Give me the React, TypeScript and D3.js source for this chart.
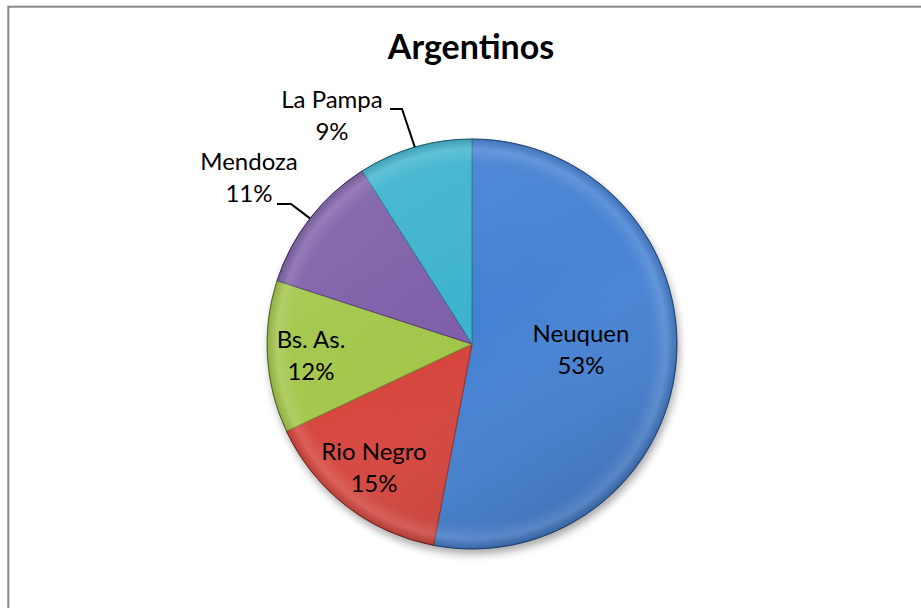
import React from "react";
import * as d3 from "d3";

const categories = ["Neuquen", "Rio Negro", "Bs. As.", "Mendoza", "La Pampa"];
const values = [53, 15, 12, 11, 9];
const colors = ["#4581D3", "#D6443C", "#A3C64A", "#7F5FA9", "#3DB3CE"];
const strokes = ["#2E5C9C", "#9A2A24", "#6E8A2A", "#553C78", "#217C92"];
const title = "Argentinos";

const W = 921;
const H = 608;
const cx = 472;
const cy = 344;
const R = 205;
const FONT = "Lato, 'Open Sans', 'DejaVu Sans', sans-serif";

const labelPos: Record<string, { x: number; y: number; leader?: number[][] }> = {
  Neuquen: { x: 581, y: 342 },
  "Rio Negro": { x: 374, y: 460 },
  "Bs. As.": { x: 311, y: 348 },
  Mendoza: { x: 249, y: 170, leader: [[277, 204], [291, 204]] },
  "La Pampa": { x: 332, y: 108, leader: [[390, 109], [402, 109]] },
};

export default function App() {
  const data = categories.map((c, i) => ({ c, v: values[i], i }));
  const pie = d3
    .pie<{ c: string; v: number; i: number }>()
    .sort(null)
    .value((d) => d.v)
    .startAngle(0)
    .endAngle(2 * Math.PI);
  const arcs = pie(data);
  const arc = d3.arc<d3.PieArcDatum<any>>().innerRadius(0).outerRadius(R);
  const total = d3.sum(values);

  return (
    <svg
      width={W}
      height={H}
      style={{ position: "absolute", left: 0, top: 0, background: "#fff" }}
    >
      <defs>
        <filter id="shadow" x="-20%" y="-20%" width="140%" height="140%">
          <feGaussianBlur stdDeviation="4" />
        </filter>
        <radialGradient id="bevel" cx="0.5" cy="0.5" r="0.5">
          <stop offset="0%" stopColor="#fff" stopOpacity="0" />
          <stop offset="88%" stopColor="#fff" stopOpacity="0.02" />
          <stop offset="95%" stopColor="#fff" stopOpacity="0.14" />
          <stop offset="100%" stopColor="#000" stopOpacity="0.12" />
        </radialGradient>
        <linearGradient id="shade" x1="0" y1="0" x2="0.6" y2="1">
          <stop offset="0%" stopColor="#fff" stopOpacity="0.08" />
          <stop offset="55%" stopColor="#fff" stopOpacity="0" />
          <stop offset="100%" stopColor="#000" stopOpacity="0.12" />
        </linearGradient>
      </defs>
      <rect x={8.3} y={6.7} width={W + 20} height={H + 20} fill="#fff" stroke="#888" strokeWidth={2} />
      <text
        x={471}
        y={59}
        textAnchor="middle"
        fontFamily={FONT}
        fontWeight="bold"
        fontSize={34}
        fill="#000"
      >
        {title}
      </text>
      <circle cx={cx + 2} cy={cy + 5} r={R} fill="#000" opacity={0.35} filter="url(#shadow)" />
      <g transform={`translate(${cx},${cy})`}>
        {arcs.map((a, i) => (
          <path key={i} d={arc(a) || ""} fill={colors[i]} stroke={strokes[i]} strokeWidth={1} />
        ))}
        <circle r={R} fill="url(#shade)" />
        <circle r={R} fill="url(#bevel)" />
        <circle r={R} fill="none" stroke="#000" strokeOpacity={0.25} strokeWidth={1} />
      </g>
      {arcs.map((a, i) => {
        const p = labelPos[a.data.c];
        const mid = (a.startAngle + a.endAngle) / 2;
        const ex = cx + R * Math.sin(mid);
        const ey = cy - R * Math.cos(mid);
        const pct = Math.round((a.data.v / total) * 100) + "%";
        return (
          <g key={"l" + i}>
            {p.leader && (
              <polyline
                points={[...p.leader, [ex, ey]].map((q) => q.join(",")).join(" ")}
                fill="none"
                stroke="#000"
                strokeWidth={2}
              />
            )}
            <text textAnchor="middle" fontFamily={FONT} fontSize={24} fill="#000">
              <tspan x={p.x} y={p.y}>{a.data.c}</tspan>
              <tspan x={p.x} y={p.y + 32}>{pct}</tspan>
            </text>
          </g>
        );
      })}
    </svg>
  );
}
